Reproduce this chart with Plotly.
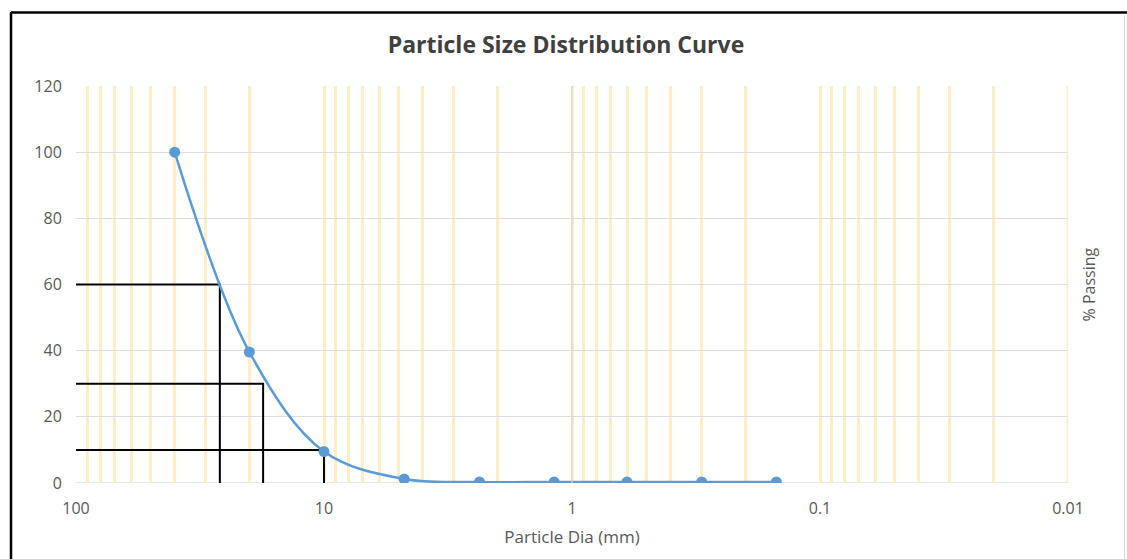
import plotly.graph_objects as go

# ---- data ----
sieve_mm = [40, 20, 10, 4.75, 2.36, 1.18, 0.6, 0.3, 0.15]
pct_passing = [100, 39.6, 9.5, 1.2, 0.3, 0.3, 0.3, 0.3, 0.3]

d_labels = ["D60", "D30", "D10"]
d_pct = [60, 30, 10]
d_size = [26.3, 17.6, 10.0]

x_tickvals = [100, 10, 1, 0.1, 0.01]
x_ticktext = ["100", "10", "1", "0.1", "0.01"]
y_tickvals = [0, 20, 40, 60, 80, 100, 120]

x_left = 100      # axis start (left edge of plot)
x_right = 0.01    # axis end (right edge of plot)
x_cross = 1       # where the value axis crosses

W, H = 1127, 559
L, R, T, B = 76, 59, 86, 76
pw, ph = W - L - R, H - T - B


def px_x(px):
    return (px - L) / pw


def px_y(py):
    return (H - B - py) / ph


FONT = "Open Sans"
TXT = "#595959"
YEL = "#FCEFC6"

fig = go.Figure()

# guide lines (D60, D30, D10)
for lab, p, d in zip(d_labels, d_pct, d_size):
    fig.add_trace(go.Scatter(
        x=[x_left, d, d], y=[p, p, 0], mode="lines",
        line=dict(color="black", width=2), hoverinfo="skip", name=lab,
        showlegend=False))

fig.add_trace(go.Scatter(
    x=sieve_mm, y=pct_passing, mode="lines+markers",
    line=dict(color="#5B9BD5", width=2.5, shape="spline", smoothing=1.0),
    marker=dict(color="#5B9BD5", size=11),
    showlegend=False, name="% Passing"))

shapes = [
    # yellow gridline at right edge
    dict(type="line", xref="x", yref="paper", x0=x_right, x1=x_right, y0=0, y1=1,
         line=dict(color=YEL, width=3), layer="between"),
    # vertical value-axis line at x=1
    dict(type="line", xref="x", yref="paper", x0=x_cross, x1=x_cross, y0=0, y1=1,
         line=dict(color="#D2D2D2", width=1.2), layer="above"),
    # horizontal category-axis line at y=0
    dict(type="line", xref="paper", yref="y", x0=0, x1=1, y0=0, y1=0,
         line=dict(color="#D0D0D0", width=1), layer="between"),
    # chart border: top and left black, right light gray
    dict(type="line", xref="paper", yref="paper", x0=px_x(11), x1=px_x(W), y0=px_y(12.5), y1=px_y(12.5),
         line=dict(color="black", width=2.5)),
    dict(type="line", xref="paper", yref="paper", x0=px_x(11), x1=px_x(11), y0=px_y(12), y1=px_y(H),
         line=dict(color="black", width=2.5)),
    dict(type="line", xref="paper", yref="paper", x0=px_x(1124.5), x1=px_x(1124.5), y0=px_y(15), y1=px_y(H),
         line=dict(color="#D9D9D9", width=1)),
]

fig.update_layout(
    width=W, height=H,
    margin=dict(l=L, r=R, t=T, b=B),
    paper_bgcolor="white", plot_bgcolor="white",
    font=dict(family=FONT, color=TXT, size=16),
    title=dict(text="<b>Particle Size Distribution Curve</b>", x=566 / W, xanchor="center",
               y=1 - 45 / H, yanchor="middle", yref="container",
               font=dict(family=FONT, size=23, color="#404040")),
    shapes=shapes,
    annotations=[dict(text="% Passing", xref="paper", yref="paper", x=px_x(1088), y=0.5,
                      textangle=-90, showarrow=False, xanchor="center", yanchor="middle",
                      font=dict(family=FONT, size=16, color=TXT))],
)

fig.update_xaxes(
    type="log", range=[2, -2],
    tickvals=x_tickvals, ticktext=x_ticktext,
    showgrid=True, gridcolor=YEL, gridwidth=3,
    minor=dict(showgrid=True, gridcolor=YEL, gridwidth=3, dtick="D1", ticks=""),
    showline=False, zeroline=False, ticks="outside", ticklen=11, tickcolor="rgba(0,0,0,0)",
    title=dict(text="Particle Dia (mm)", standoff=12, font=dict(size=17, color=TXT)),
    tickfont=dict(size=16, color=TXT),
)
fig.update_yaxes(
    range=[0, 120], tickvals=y_tickvals,
    showgrid=True, gridcolor="#DEDEDE", gridwidth=1,
    zeroline=False, showline=False, ticks="outside", ticklen=10, tickcolor="rgba(0,0,0,0)",
    tickfont=dict(size=16, color=TXT),
)

fig.write_html("out.html")
